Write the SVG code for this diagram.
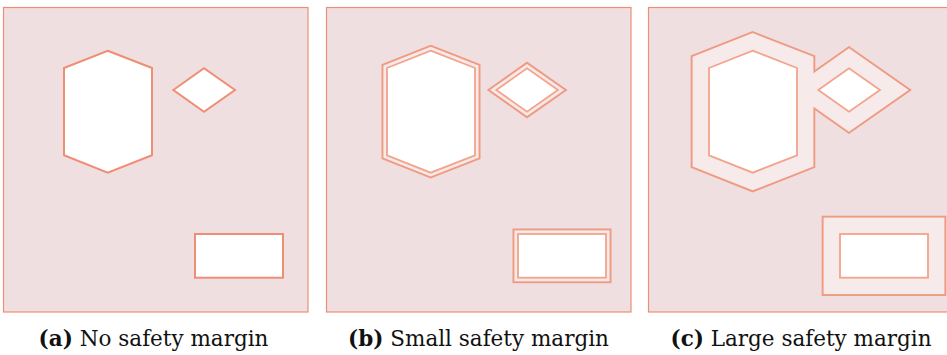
<svg xmlns="http://www.w3.org/2000/svg" width="947" height="355" viewBox="0 0 947 355">
  <defs>
    <style>
      .panel { fill: #efdfe0; stroke: #ee8f75; stroke-width: 1.2; }
      .obst { fill: #ffffff; stroke: #ee8f75; stroke-width: 2; stroke-linejoin: miter; }
      .obst-in { fill: #ffffff; stroke: #f2a48c; stroke-width: 1.8; stroke-linejoin: miter; }
      .cap { font-family: "DejaVu Serif", "Liberation Serif", serif; font-size: 21.5px; fill: #111111; }
      .cap tspan.b { font-weight: bold; }
    </style>
    <!-- obstacle shapes, in panel coordinates -->
    <polygon id="hex" points="107.7,50.7 152,68 152,155.3 107.7,172.7 64,155.3 64,68"/>
    <polygon id="dia" points="173.3,90 204,68.3 235,90 204,111.7"/>
    <rect id="box" x="195" y="234" width="88" height="43.7"/>
  </defs>

  <!-- (a) no safety margin -->
  <g id="panel-a">
    <rect class="panel" x="3.5" y="7.5" width="304.5" height="304.5"/>
    <use href="#hex" class="obst"/>
    <use href="#dia" class="obst"/>
    <use href="#box" class="obst"/>
  </g>

  <!-- (b) small safety margin -->
  <g id="panel-b" transform="translate(323,0)">
    <rect class="panel" x="3.5" y="7.5" width="304.5" height="304.5"/>
    <g stroke="#f09a80" fill="#f6e9e9" stroke-linejoin="miter" stroke-width="11">
      <use href="#hex"/><use href="#dia"/><use href="#box"/>
    </g>
    <g stroke="#f6e9e9" fill="#f6e9e9" stroke-linejoin="miter" stroke-width="7.2">
      <use href="#hex"/><use href="#dia"/><use href="#box"/>
    </g>
    <use href="#hex" class="obst-in"/>
    <use href="#dia" class="obst-in"/>
    <use href="#box" class="obst-in"/>
  </g>

  <!-- (c) large safety margin -->
  <g id="panel-c" transform="translate(645,0)">
    <rect class="panel" x="3.5" y="7.5" width="304.5" height="304.5"/>
    <g stroke="#f09a80" fill="#f6eaea" stroke-linejoin="miter" stroke-width="36.6">
      <use href="#hex"/><use href="#dia"/><use href="#box"/>
    </g>
    <g stroke="#f6eaea" fill="#f6eaea" stroke-linejoin="miter" stroke-width="32.8">
      <use href="#hex"/><use href="#dia"/><use href="#box"/>
    </g>
    <use href="#hex" class="obst-in"/>
    <use href="#dia" class="obst-in"/>
    <use href="#box" class="obst-in"/>
  </g>

  <!-- captions -->
  <g id="captions">
    <text class="cap" x="153.5" y="346" text-anchor="middle"><tspan class="b">(a)</tspan> No safety margin</text>
    <text class="cap" x="478.5" y="346" text-anchor="middle"><tspan class="b">(b)</tspan> Small safety margin</text>
    <text class="cap" x="801" y="346" text-anchor="middle"><tspan class="b">(c)</tspan> Large safety margin</text>
  </g>
</svg>
